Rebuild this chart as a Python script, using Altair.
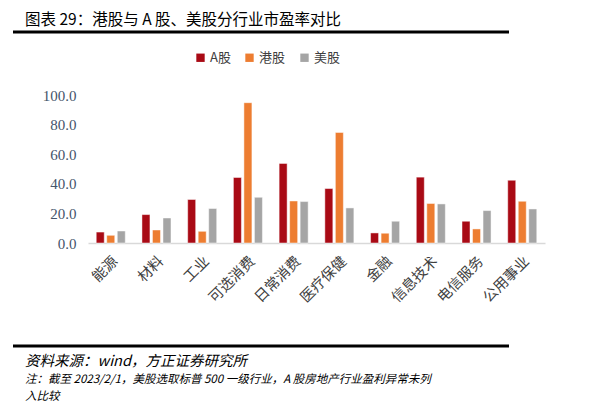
import altair as alt
import pandas as pd

categories = ["能源", "材料", "工业", "可选消费", "日常消费", "医疗保健", "金融", "信息技术", "电信服务", "公用事业"]
series = ["A股", "港股", "美股"]
a_share = [7.4, 19.2, 29.4, 44.3, 53.8, 36.8, 6.8, 44.5, 14.7, 42.4]
hk_share = [5.2, 8.8, 7.9, 94.8, 28.4, 74.7, 6.6, 26.7, 9.5, 28.2]
us_share = [8.1, 16.9, 23.3, 30.9, 28.0, 23.7, 14.7, 26.4, 21.9, 23.0]
colors = ["#A90A15", "#ED7D31", "#A5A5A5"]

title_text = "图表 29：港股与 A 股、美股分行业市盈率对比"
source_text = "资料来源：wind，方正证券研究所"
note_line1 = "注：截至 2023/2/1，美股选取标普 500 一级行业，A 股房地产行业盈利异常未列"
note_line2 = "入比较"

rows = []
for s, vals in zip(series, [a_share, hk_share, us_share]):
    for c, v in zip(categories, vals):
        rows.append({"行业": c, "市场": s, "市盈率": v})
df = pd.DataFrame(rows)

W, H = 457, 148

bars = alt.Chart(df).mark_bar(stroke="#ffffff", strokeWidth=0.8, strokeOpacity=0.6).encode(
    x=alt.X("行业:N", sort=categories,
            scale=alt.Scale(paddingInner=0.365, paddingOuter=0.18),
            axis=alt.Axis(title=None, labelAngle=-45, labelFont="Noto Sans CJK SC",
                          labelFontSize=14.5, labelColor="#404040", ticks=False,
                          domainColor="#D9D9D9", domainWidth=1.5, labelPadding=11)),
    xOffset=alt.XOffset("市场:N", sort=series, scale=alt.Scale(paddingInner=0.238)),
    y=alt.Y("市盈率:Q", scale=alt.Scale(domain=[0, 100], nice=False),
            axis=alt.Axis(title=None, values=[0, 20, 40, 60, 80, 100], format=".1f",
                          grid=False, domain=False, ticks=False, labelPadding=12,
                          labelFont="Liberation Serif", labelFontSize=15,
                          labelColor="#44546A")),
    color=alt.Color("市场:N", sort=series,
                    scale=alt.Scale(domain=series, range=colors),
                    legend=alt.Legend(title=None, orient="none", direction="horizontal",
                                      legendX=106, legendY=-44, symbolType="square",
                                      symbolSize=70, symbolStrokeWidth=0,
                                      labelFont="Noto Sans CJK SC", labelFontSize=13,
                                      labelColor="#404040", columnPadding=12,
                                      labelOffset=3)),
)

def txt(s, x, y, size, italic=False):
    return alt.Chart(pd.DataFrame({"t": [s]})).mark_text(
        align="left", baseline="middle", font="Noto Sans CJK SC", fontSize=size,
        fontStyle="italic" if italic else "normal", color="#000000"
    ).encode(text="t:N", x=alt.value(x), y=alt.value(y))

def hline(y):
    return alt.Chart(pd.DataFrame({"a": [0]})).mark_rule(color="#000000", strokeWidth=3).encode(
        x=alt.value(-75), x2=alt.value(421), y=alt.value(y))

chart = alt.layer(
    bars,
    txt(title_text, -63, -75, 15.5),
    hline(-63),
    hline(251),
    txt(source_text, -63, 267, 14.5, italic=True),
    txt(note_line1, -63, 285, 11.5, italic=True),
    txt(note_line2, -63, 302, 11.5, italic=True),
).properties(
    width=W, height=H,
    autosize=alt.AutoSizeParams(type="none"),
    padding={"left": 80, "top": 87, "right": 54, "bottom": 162},
).configure_view(stroke=None)

chart.save("out.html", embed_options={"renderer": "svg", "actions": False})
